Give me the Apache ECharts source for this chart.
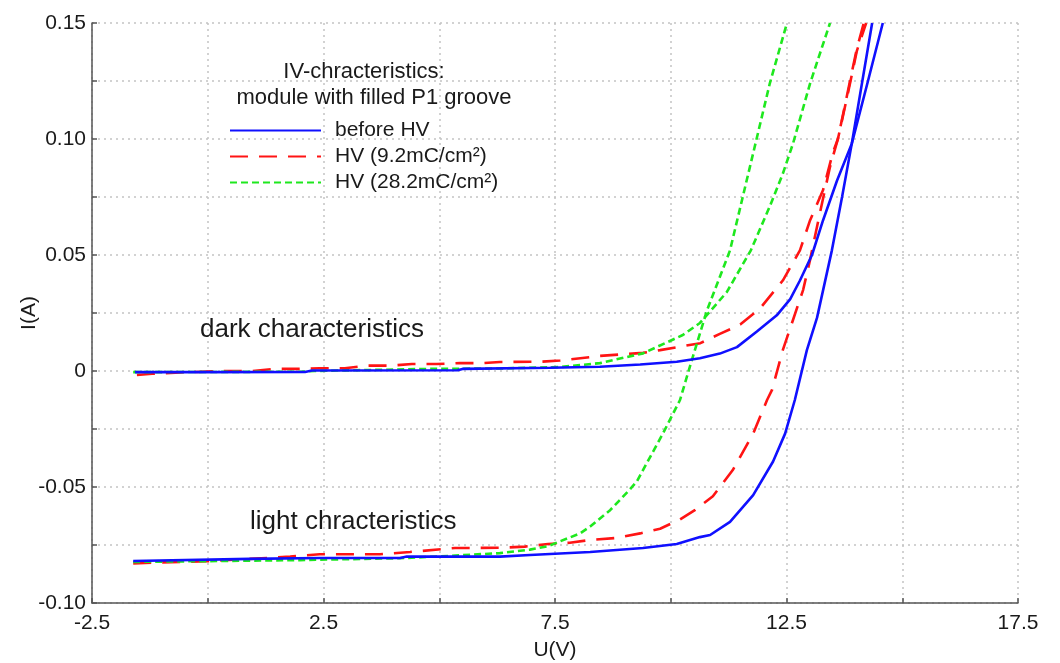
<!DOCTYPE html>
<html><head><meta charset="utf-8">
<script src="https://cdn.jsdelivr.net/npm/echarts@6/dist/echarts.min.js"></script>
<style>html,body{margin:0;padding:0;background:#fff}#c{width:1060px;height:663px}</style>
</head><body><div id="c"></div><script>
// ---- data (U in V, I in A) ----
const seriesNames = ['before HV', 'HV (9.2mC/cm²)', 'HV (28.2mC/cm²)'];
const titleLines = ['IV-chracteristics:', 'module with filled P1 groove'];
const annotations = ['dark characteristics', 'light chracteristics'];

const beforeDark = [[-1.57,-0.0005],[-0.17,-0.0005],[2.1,-0.0004],[2.25,0.0002],[5.4,0.0003],[5.5,0.0009],[7.39,0.0014],[8.47,0.0018],[9.34,0.0028],[10.13,0.004],[10.63,0.0055],[11.06,0.0075],[11.43,0.0103],[11.86,0.017],[12.29,0.024],[12.58,0.031],[12.79,0.039],[13.05,0.050],[13.29,0.065],[13.59,0.082],[13.91,0.098],[14.26,0.125],[14.58,0.15]];
const beforeLight = [[-1.61,-0.0819],[0.91,-0.081],[2.42,-0.0806],[4.15,-0.0806],[4.3,-0.0800],[4.91,-0.0800],[6.31,-0.0800],[6.96,-0.0793],[8.26,-0.078],[9.4,-0.0763],[10.13,-0.0746],[10.63,-0.0716],[10.85,-0.0707],[11.28,-0.065],[11.78,-0.0535],[12.21,-0.039],[12.47,-0.027],[12.68,-0.0125],[12.94,0.009],[13.16,0.023],[13.48,0.052],[13.70,0.075],[13.91,0.098],[14.13,0.124],[14.35,0.15]];
const hv9Dark = [[-1.53,-0.0017],[-1.2,-0.0012],[-0.6,-0.0006],[0.42,0.0],[0.96,0.0],[1.45,0.0009],[1.95,0.0009],[2.42,0.0012],[2.96,0.0012],[3.44,0.0023],[3.94,0.0023],[4.41,0.003],[4.95,0.003],[5.45,0.0034],[5.94,0.0034],[6.31,0.0039],[7.18,0.0040],[7.61,0.0045],[8.47,0.0065],[9.40,0.0078],[9.77,0.009],[10.64,0.012],[11.06,0.016],[11.50,0.020],[11.93,0.027],[12.42,0.039],[12.79,0.052],[13.01,0.065],[13.29,0.078],[13.50,0.094],[13.61,0.10],[13.83,0.12],[14.02,0.138],[14.22,0.15]];
const hv9Light = [[-1.61,-0.083],[-1.03,-0.0825],[0.0,-0.082],[0.91,-0.081],[1.78,-0.080],[2.42,-0.079],[3.72,-0.079],[4.37,-0.078],[5.34,-0.0763],[6.31,-0.0762],[6.85,-0.0757],[7.35,-0.0746],[7.82,-0.0740],[8.32,-0.0727],[8.80,-0.0720],[9.34,-0.0700],[9.77,-0.0680],[10.20,-0.0640],[10.52,-0.0600],[10.91,-0.054],[11.34,-0.0427],[11.78,-0.027],[12.08,-0.0125],[12.19,-0.008],[12.42,0.009],[12.64,0.022],[12.86,0.035],[13.01,0.048],[13.22,0.068],[13.44,0.088],[13.61,0.10],[13.83,0.121],[14.02,0.139],[14.17,0.15]];
const hv28Dark = [[-1.61,-0.0005],[1.99,-0.0003],[2.3,0.0],[4.76,0.0009],[6.31,0.0011],[7.61,0.0017],[8.47,0.0034],[9.40,0.0076],[10.26,0.0155],[10.63,0.0207],[11.21,0.034],[11.73,0.052],[12.14,0.071],[12.42,0.085],[12.64,0.098],[13.01,0.124],[13.44,0.15]];
const hv28Light = [[-1.61,-0.0823],[1.99,-0.0815],[4.15,-0.0807],[5.23,-0.0797],[6.31,-0.0785],[6.96,-0.077],[7.35,-0.0755],[8.04,-0.070],[8.26,-0.067],[8.69,-0.060],[9.12,-0.051],[9.27,-0.0475],[9.83,-0.027],[10.20,-0.0125],[10.46,0.005],[10.78,0.026],[11.28,0.052],[11.71,0.088],[12.14,0.124],[12.51,0.15]];

const FONT = "'Liberation Sans', Arial, sans-serif";
const TXT = '#1a1a1a';
const colors = ['#1010ff', '#ff1414', '#1ee81e'];
const dashes = ['solid', [18, 11], [7, 4]];

function mk(name, data, idx) {
  return {
    type: 'line', name: name, data: data, showSymbol: false, symbol: 'none',
    z: [4, 2, 3][idx], animation: false,
    lineStyle: { color: colors[idx], width: 2.6, type: dashes[idx] },
    itemStyle: { color: colors[idx] }
  };
}

const chart = echarts.init(document.getElementById('c'), null, { renderer: 'canvas' });
const axisLineStyle = { color: '#555', width: 1.5 };
const gridStyle = { type: [2, 4], color: '#c4c4c4', width: 1.5 };

chart.setOption({
  animation: false,
  backgroundColor: '#fff',
  grid: { left: 92, right: 42, top: 23, bottom: 60, containLabel: false, outerBoundsMode: 'none' },
  xAxis: {
    type: 'value', min: -2.5, max: 17.5, interval: 2.5,
    name: 'U(V)', nameLocation: 'middle', nameGap: 37, nameMoveOverlap: false,
    nameTextStyle: { fontSize: 21, color: TXT, fontFamily: FONT },
    axisLine: { show: true, onZero: false, lineStyle: axisLineStyle },
    axisTick: { show: true, inside: true, length: 5, lineStyle: axisLineStyle },
    axisLabel: {
      fontSize: 21, color: TXT, fontFamily: FONT, margin: 10,
      formatter: function (v) {
        const k = Math.round((v + 2.5) / 2.5);
        return k % 2 === 0 ? String(Math.round(v * 10) / 10) : '';
      }
    },
    splitLine: { show: true, lineStyle: gridStyle }
  },
  yAxis: {
    type: 'value', min: -0.1, max: 0.15, interval: 0.025,
    name: 'I(A)', nameLocation: 'middle', nameGap: 52, nameMoveOverlap: false,
    nameTextStyle: { fontSize: 21, color: TXT, fontFamily: FONT },
    axisLine: { show: true, onZero: false, lineStyle: axisLineStyle },
    axisTick: { show: true, inside: true, length: 5, lineStyle: axisLineStyle },
    axisLabel: {
      fontSize: 21, color: TXT, fontFamily: FONT, margin: 6,
      formatter: function (v) {
        const k = Math.round((v + 0.1) / 0.025);
        if (k % 2 !== 0) return '';
        if (Math.abs(v) < 1e-9) return '0';
        return v.toFixed(2);
      }
    },
    splitLine: { show: true, lineStyle: gridStyle }
  },
  legend: {
    data: seriesNames, orient: 'vertical', left: 229, top: 120, padding: 0,
    itemWidth: 91, itemHeight: 14, itemGap: 5, selectedMode: false,
    itemStyle: { color: 'rgba(0,0,0,0)', borderWidth: 0, opacity: 0 },
    textStyle: { fontSize: 21, color: TXT, fontFamily: FONT, padding: [0, 0, 0, 9] }
  },
  graphic: [
    { type: 'text', x: 364, y: 72, z: 10, style: { text: titleLines[0], fill: TXT, font: '22px ' + FONT, align: 'center', verticalAlign: 'middle', textAlign: 'center', textVerticalAlign: 'middle' } },
    { type: 'text', x: 374, y: 98, z: 10, style: { text: titleLines[1], fill: TXT, font: '22px ' + FONT, align: 'center', verticalAlign: 'middle', textAlign: 'center', textVerticalAlign: 'middle' } },
    { type: 'text', x: 200, y: 330, z: 10, style: { text: annotations[0], fill: TXT, font: '26px ' + FONT, align: 'left', verticalAlign: 'middle', textAlign: 'left', textVerticalAlign: 'middle' } },
    { type: 'text', x: 250, y: 522, z: 10, style: { text: annotations[1], fill: TXT, font: '26px ' + FONT, align: 'left', verticalAlign: 'middle', textAlign: 'left', textVerticalAlign: 'middle' } }
  ],
  series: [
    mk(seriesNames[0], beforeDark, 0),
    mk(seriesNames[1], hv9Dark, 1),
    mk(seriesNames[2], hv28Dark, 2),
    mk(seriesNames[0], beforeLight, 0),
    mk(seriesNames[1], hv9Light, 1),
    mk(seriesNames[2], hv28Light, 2)
  ]
});
</script></body></html>
